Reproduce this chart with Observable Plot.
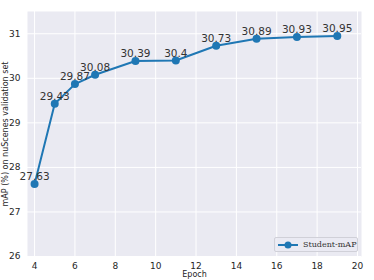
<!DOCTYPE html>
<html><head><meta charset="utf-8">
<script src="https://cdn.jsdelivr.net/npm/d3@7"></script>
<script src="https://cdn.jsdelivr.net/npm/@observablehq/plot@0.6"></script>
<style>
body{margin:0;background:#fff;}
#wrap{position:relative;width:374px;height:280px;}
#legend{position:absolute;left:274px;top:237px;width:84px;height:15px;box-sizing:border-box;border:1px solid #d0d0d8;border-radius:2px;background:rgba(234,234,242,0.8);font-family:"DejaVu Serif",serif;font-size:8px;font-weight:normal;color:#333;display:flex;align-items:center;white-space:nowrap;}
</style></head>
<body><div id="wrap"></div>
<script>
const epochs = [4,5,6,7,9,11,13,15,17,19];
const mAP = [27.63,29.43,29.87,30.08,30.39,30.4,30.73,30.89,30.93,30.95];
const labels = ["27.63","29.43","29.87","30.08","30.39","30.4","30.73","30.89","30.93","30.95"];
const xTicks = [4,6,8,10,12,14,16,18,20];
const yTicks = [26,27,28,29,30,31];
const seriesName = "Student-mAP";
const xTitle = "Epoch";
const yTitle = "mAP (%) on nuScenes validation set";

const data = epochs.map((e,i)=>({epoch:e, v:mAP[i], label:labels[i]}));
const color = "#1f77b4";
const chart = Plot.plot({
  width:374, height:280,
  marginLeft:27, marginRight:13, marginTop:11, marginBottom:24,
  style:{fontFamily:"DejaVu Sans, sans-serif", background:"#fff"},
  x:{domain:[3.65,20.2], ticks:xTicks},
  y:{domain:[26,31.5], ticks:yTicks},
  marks:[
    Plot.frame({fill:"#EAEAF2", stroke:null}),
    Plot.gridX(xTicks,{stroke:"#fff", strokeOpacity:1, strokeWidth:1}),
    Plot.gridY(yTicks,{stroke:"#fff", strokeOpacity:1, strokeWidth:1}),
    Plot.axisX(xTicks,{tickSize:0, tickPadding:6, fontSize:9, fill:"#262626", label:null}),
    Plot.axisY(yTicks,{tickSize:0, tickPadding:7, fontSize:9, fill:"#262626", label:null}),
    Plot.text([xTitle],{frameAnchor:"bottom", dy:20, fontSize:8, fill:"#262626"}),
    Plot.text([yTitle],{frameAnchor:"left", textAnchor:"middle", dx:-22, rotate:-90, fontSize:8, fill:"#262626"}),
    Plot.line(data,{x:"epoch", y:"v", stroke:color, strokeWidth:2}),
    Plot.dot(data,{x:"epoch", y:"v", fill:color, r:4}),
    Plot.text(data,{x:"epoch", y:"v", text:"label", lineAnchor:"bottom", dy:-4, fontSize:10.5, fill:"#333"})
  ]
});
const wrap = document.getElementById("wrap");
wrap.appendChild(chart);
const leg = document.createElement("div");
leg.id="legend";
leg.innerHTML = `<svg width="20" height="10" style="margin-left:3px;flex:none"><line x1="0" x2="20" y1="5" y2="5" stroke="${color}" stroke-width="2"/><circle cx="10" cy="5" r="3.5" fill="${color}"/></svg><span style="margin-left:5px">${seriesName}</span>`;
wrap.appendChild(leg);
</script></body></html>
